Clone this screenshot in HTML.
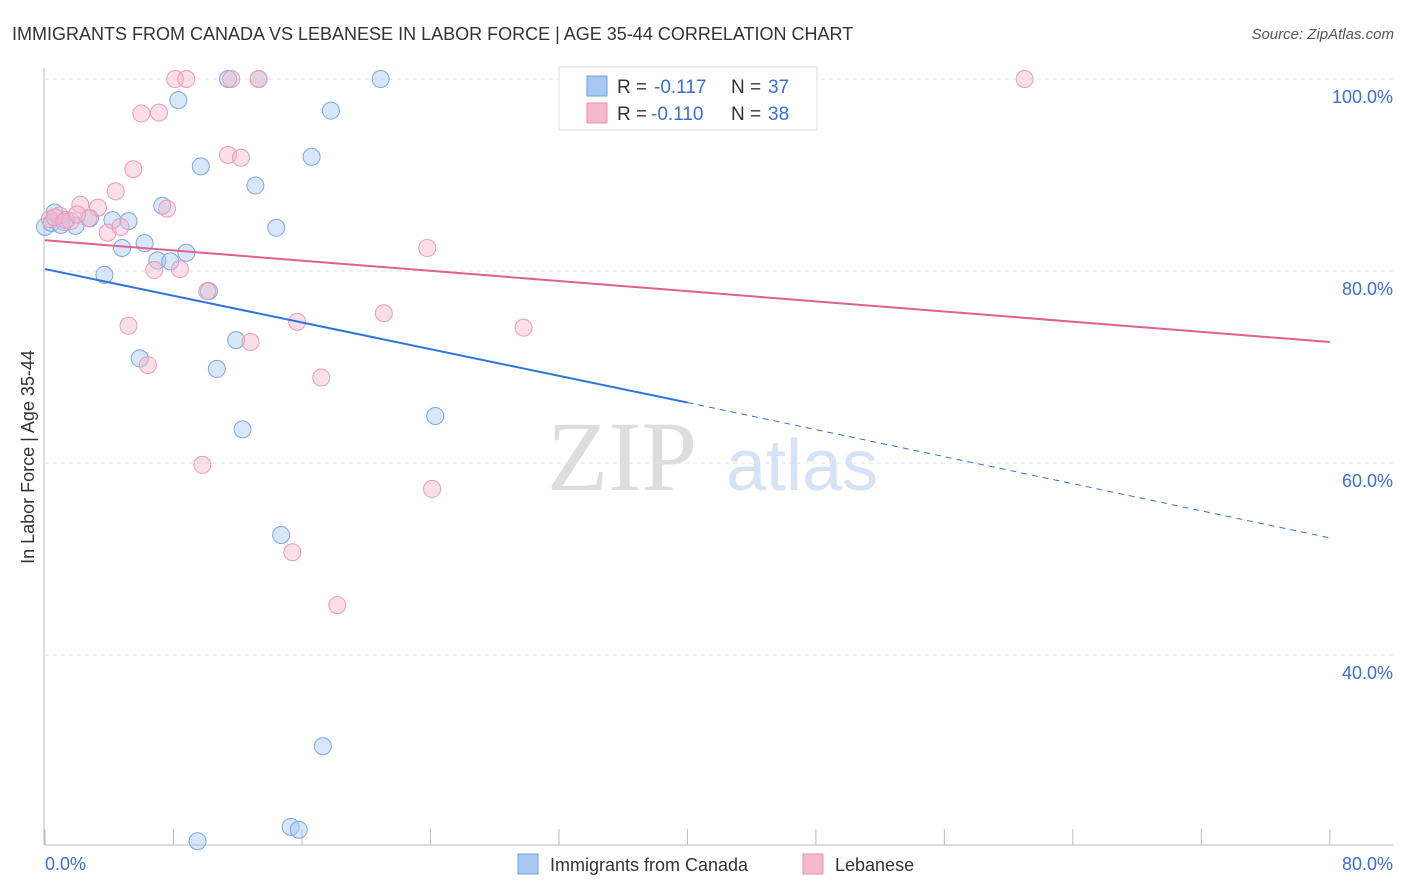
<!DOCTYPE html>
<html><head><meta charset="utf-8"><style>
body{margin:0;background:#fff;font-family:"Liberation Sans",sans-serif;}
svg{display:block}
</style></head><body>
<svg width="1406" height="892" id="chart">
<text x="12" y="40" font-size="18" fill="#333">IMMIGRANTS FROM CANADA VS LEBANESE IN LABOR FORCE | AGE 35-44 CORRELATION CHART</text>
<text x="1394" y="39" font-size="15" fill="#555" font-style="italic" text-anchor="end">Source: ZipAtlas.com</text>
<text x="622" y="490" font-size="100" fill="#ddd" font-family="Liberation Serif" text-anchor="middle">ZIP</text>
<text x="802" y="490" font-size="72" fill="#d5e3f5" text-anchor="middle">atlas</text>
<text transform="translate(34,457) rotate(-90)" font-size="18" fill="#333" text-anchor="middle">In Labor Force | Age 35-44</text>
<g id="grid"></g><g id="marks"></g>
<g>
<rect x="559" y="67" width="258" height="63" fill="#fff" stroke="#ddd"/>
<rect x="587" y="76" width="20" height="20" fill="#a7c8f0" stroke="#6fa0e0"/>
<rect x="587" y="103" width="20" height="20" fill="#f5b8cc" stroke="#e890b0"/>
<text x="617" y="93" font-size="19" fill="#333">R =</text>
<text x="654" y="93" font-size="19" fill="#3a6fd0">-0.117</text>
<text x="731" y="93" font-size="19" fill="#333">N =</text>
<text x="768" y="93" font-size="19" fill="#3a6fd0">37</text>
<text x="617" y="120" font-size="19" fill="#333">R =</text>
<text x="651" y="120" font-size="19" fill="#3a6fd0">-0.110</text>
<text x="731" y="120" font-size="19" fill="#333">N =</text>
<text x="768" y="120" font-size="19" fill="#3a6fd0">38</text>
</g>
<g>
<rect x="518" y="854" width="20" height="20" fill="#a7c8f0" stroke="#6fa0e0"/>
<text x="550" y="871" font-size="18" fill="#333">Immigrants from Canada</text>
<rect x="803" y="854" width="20" height="20" fill="#f5b8cc" stroke="#e890b0"/>
<text x="835" y="871" font-size="18" fill="#333">Lebanese</text>
</g>
</svg>
<script>
const blueX=[11.4,13.3,20.9,8.3,17.8,9.7,16.6,13.1,7.3,0.6,2.8,4.2,5.2,1.9,14.4,6.2,4.8,8.8,7.0,7.8,3.7,10.2,11.9,5.9,10.7,12.3,24.3,14.7,17.3,15.3,15.8,9.5,0,34.0,0.4,1.0,1.3];
const blueY=[100,100,100,97.8,96.7,90.9,91.9,88.9,86.8,86.1,85.5,85.3,85.2,84.7,84.5,82.9,82.4,81.9,81.1,81.0,79.6,77.9,72.8,70.9,69.8,63.5,64.9,52.5,30.5,22.1,21.8,20.6,84.6,100,85.0,84.8,85.3];
const pinkX=[8.1,8.8,11.6,13.3,61.0,6.0,7.1,11.4,12.2,5.5,4.4,7.6,2.2,3.3,2.7,0.9,1.6,3.9,4.7,23.8,6.8,8.4,10.1,21.1,15.7,5.2,29.8,12.8,6.4,17.2,9.8,24.1,15.4,18.2,0.3,0.6,1.2,2.0];
const pinkY=[100,100,100,100,100,96.4,96.5,92.1,91.8,90.6,88.3,86.5,86.9,86.6,85.5,85.8,85.2,84.0,84.6,82.4,80.1,80.2,77.9,75.6,74.7,74.3,74.1,72.6,70.2,68.9,59.8,57.3,50.7,45.2,85.4,85.6,85.1,85.9];
const blueTrend=[80.2,66.3,52.2];
const pinkTrend=[83.2,72.6];
const yTicks=[100,80,60,40];
const xTickLabels=["0.0%","80.0%"];
const NS="http://www.w3.org/2000/svg";
const sx=v=>45+v*16.06, sy=v=>79+(100-v)*9.6;
const grid=document.getElementById('grid'), marks=document.getElementById('marks');
function mk(tag,attrs,parent){const e=document.createElementNS(NS,tag);for(const k in attrs)e.setAttribute(k,attrs[k]);parent.appendChild(e);return e;}
yTicks.forEach(t=>{
 const l=mk('line',{x1:45,x2:1393,y1:sy(t),y2:sy(t),stroke:'#e2e2e2','stroke-dasharray':'4,4'},grid);
 
 
 const tx=mk('text',{x:1393,y:sy(t)+24,'font-size':18,fill:'#3a6fd0','text-anchor':'end'},grid);
 tx.textContent=t.toFixed(1)+'%';
 
 
});
const ax=mk('line',{x1:44,x2:44,y1:68,y2:845,stroke:'#bbb'},grid);


const bx=mk('line',{x1:44,x2:1393,y1:845,y2:845,stroke:'#bbb'},grid);


for(let i=0;i<=10;i++){
 const t=mk('line',{x1:sx(i*8),x2:sx(i*8),y1:829,y2:845,stroke:'#bbb'},grid);
 
 
}
[[0,'start'],[80,'end']].forEach((p,i)=>{
 const tx=mk('text',{x:i?1393:45,y:870,'font-size':18,fill:'#3a6fd0','text-anchor':p[1]},grid);
 tx.textContent=xTickLabels[i];
 
 
});
blueX.forEach((x,i)=>{
 const c=mk('circle',{cx:sx(x),cy:sy(blueY[i]),r:8.5,fill:'rgba(167,200,240,0.45)',stroke:'#7aa8e2','stroke-width':1},marks);
 
 
});
pinkX.forEach((x,i)=>{
 const c=mk('circle',{cx:sx(x),cy:sy(pinkY[i]),r:8.5,fill:'rgba(245,184,204,0.45)',stroke:'#eb9ab8','stroke-width':1},marks);
 
 
});
const b1=mk('line',{x1:sx(0),y1:sy(blueTrend[0]),x2:sx(40),y2:sy(blueTrend[1]),stroke:'#2f74d8','stroke-width':2},marks);


const b2=mk('line',{x1:sx(40),y1:sy(blueTrend[1]),x2:sx(80),y2:sy(blueTrend[2]),stroke:'#2f74d8','stroke-width':1,'stroke-dasharray':'6,5'},marks);


const p1=mk('line',{x1:sx(0),y1:sy(pinkTrend[0]),x2:sx(80),y2:sy(pinkTrend[1]),stroke:'#e0608e','stroke-width':2},marks);


</script>
</body></html>
